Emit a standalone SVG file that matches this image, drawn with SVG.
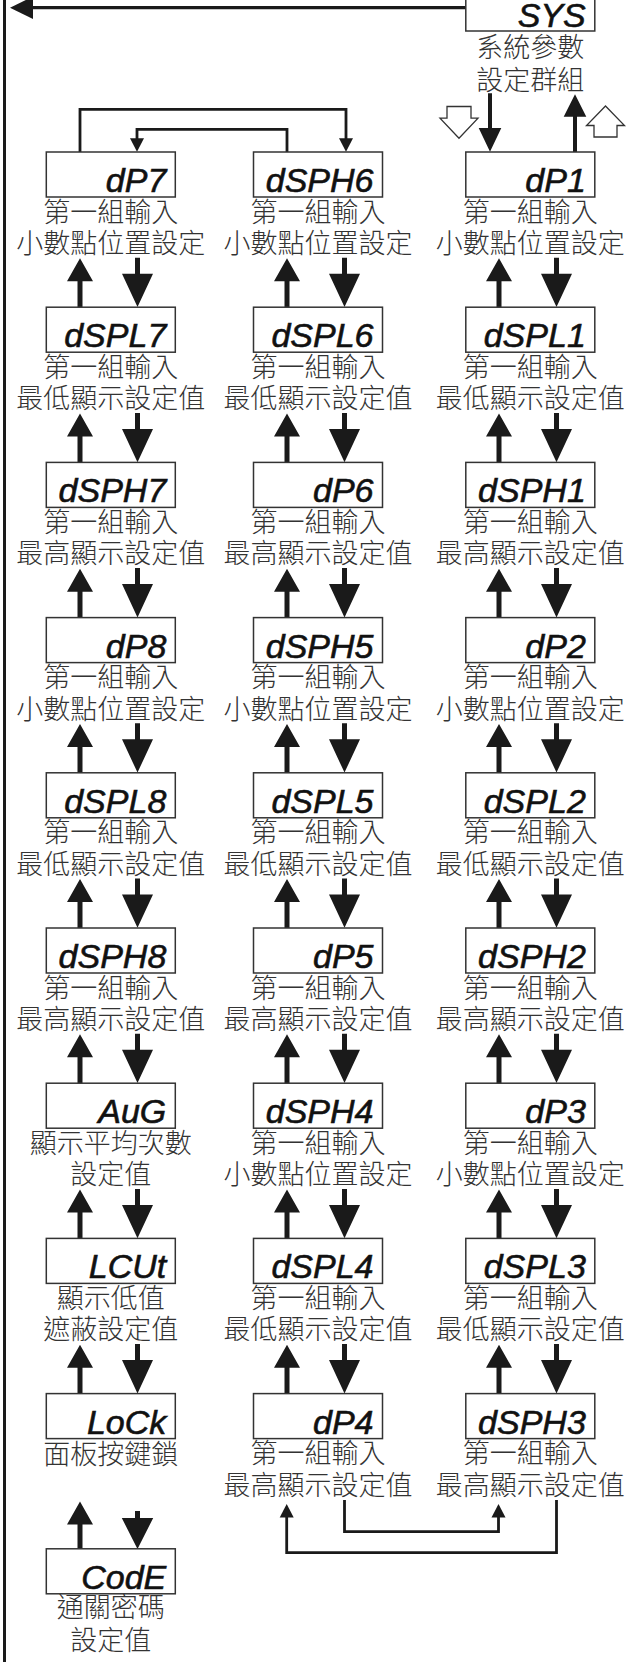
<svg xmlns="http://www.w3.org/2000/svg" xmlns:xlink="http://www.w3.org/1999/xlink" width="637" height="1662" viewBox="0 0 637 1662">
<style>
.box{fill:#fff;stroke:#333;stroke-width:1.5}
.seg{font-family:'Liberation Sans',Arial,sans-serif;font-style:italic;font-size:34px;fill:#111;stroke:#111;stroke-width:0.6;text-anchor:end}
.lbl{font-family:'Noto Sans CJK TC','Noto Sans CJK SC',sans-serif;font-size:27px;font-weight:300;fill:#333;text-anchor:middle}
.arr{fill:#1a1a1a}
.ln{fill:none;stroke:#1a1a1a;stroke-width:2.8}
.hol{fill:#fff;stroke:#333;stroke-width:1.3}
</style>
<defs>
<path id="up" d="M0,0 L13,23 H2.5 V50 H-2.5 V23 H-13 Z"/>
<path id="dn" d="M-2.5,0 H2.5 V16 H15.5 L0,49.3 L-15.5,16 H-2.5 Z"/>
<path id="sup" d="M0,0 L7,13.5 H-7 Z"/>
<path id="sdn" d="M0,0 L7,-13.5 H-7 Z"/>
</defs>

<g id="connectors">
<line x1="4.5" y1="0" x2="4.5" y2="1662" stroke="#1a1a1a" stroke-width="3"/>
<line x1="466" y1="7.7" x2="30" y2="7.7" stroke="#1a1a1a" stroke-width="3.3"/>
<path class="arr" d="M10,7.7 L33,-3.5 L33,19 Z"/>
<path class="arr" d="M488,93.3 H492 V128 H501.3 L490,151.7 L478.7,128 H488 Z"/>
<path class="arr" d="M575,94.3 L586.3,116.7 H577 V152 H573 V116.7 H563.7 Z"/>
<path class="hol" d="M447,106.5 H471 V118.2 H478 L459,138.3 L440,118.2 H447 Z"/>
<path class="hol" d="M605.5,106 L624.5,125.5 H617 V137 H594 V125.5 H586.5 Z"/>
<polyline class="ln" points="80,152 80,109.3 346,109.3 346,139"/>
<use href="#sdn" x="346" y="151.7" class="arr"/>
<polyline class="ln" points="287,152 287,129.3 137,129.3 137,139"/>
<use href="#sdn" x="137" y="151.7" class="arr"/>
<polyline class="ln" points="344.5,1500 344.5,1531.7 498.5,1531.7 498.5,1516"/>
<use href="#sup" x="498.5" y="1504" class="arr"/>
<polyline class="ln" points="556.5,1500 556.5,1552.7 286.7,1552.7 286.7,1516"/>
<use href="#sup" x="286.7" y="1504" class="arr"/>
<g class="arr">
<use href="#up" x="80" y="258.3"/><use href="#dn" x="137.5" y="257.7"/>
<use href="#up" x="287" y="258.3"/><use href="#dn" x="344.5" y="257.7"/>
<use href="#up" x="499" y="258.3"/><use href="#dn" x="556.5" y="257.7"/>
<use href="#up" x="80" y="413.5"/><use href="#dn" x="137.5" y="412.9"/>
<use href="#up" x="287" y="413.5"/><use href="#dn" x="344.5" y="412.9"/>
<use href="#up" x="499" y="413.5"/><use href="#dn" x="556.5" y="412.9"/>
<use href="#up" x="80" y="568.7"/><use href="#dn" x="137.5" y="568.1"/>
<use href="#up" x="287" y="568.7"/><use href="#dn" x="344.5" y="568.1"/>
<use href="#up" x="499" y="568.7"/><use href="#dn" x="556.5" y="568.1"/>
<use href="#up" x="80" y="723.9"/><use href="#dn" x="137.5" y="723.3"/>
<use href="#up" x="287" y="723.9"/><use href="#dn" x="344.5" y="723.3"/>
<use href="#up" x="499" y="723.9"/><use href="#dn" x="556.5" y="723.3"/>
<use href="#up" x="80" y="879.1"/><use href="#dn" x="137.5" y="878.5"/>
<use href="#up" x="287" y="879.1"/><use href="#dn" x="344.5" y="878.5"/>
<use href="#up" x="499" y="879.1"/><use href="#dn" x="556.5" y="878.5"/>
<use href="#up" x="80" y="1034.3"/><use href="#dn" x="137.5" y="1033.7"/>
<use href="#up" x="287" y="1034.3"/><use href="#dn" x="344.5" y="1033.7"/>
<use href="#up" x="499" y="1034.3"/><use href="#dn" x="556.5" y="1033.7"/>
<use href="#up" x="80" y="1189.5"/><use href="#dn" x="137.5" y="1188.9"/>
<use href="#up" x="287" y="1189.5"/><use href="#dn" x="344.5" y="1188.9"/>
<use href="#up" x="499" y="1189.5"/><use href="#dn" x="556.5" y="1188.9"/>
<use href="#up" x="80" y="1344.7"/><use href="#dn" x="137.5" y="1344.1"/>
<use href="#up" x="287" y="1344.7"/><use href="#dn" x="344.5" y="1344.1"/>
<use href="#up" x="499" y="1344.7"/><use href="#dn" x="556.5" y="1344.1"/>
<use href="#up" x="80" y="1501.6"/>
<path d="M135,1511 H140 V1518 H153.2 L137.5,1549 L121.8,1518 H135 Z"/>
</g>
</g>

<g id="n-SYS" transform="translate(465.8,-14)">
<rect class="box" width="129" height="45"/><text class="seg" x="120" y="40.5">SYS</text>
<text class="lbl" x="64.5" y="71">系統參數</text><text class="lbl" x="64.5" y="104">設定群組</text>
</g>

<g id="n-dP7" transform="translate(46.3,152)"><rect class="box" width="129" height="45"/><text class="seg" x="120" y="40">dP7</text><text class="lbl" x="64.5" y="69.5">第一組輸入</text><text class="lbl" x="64.5" y="101">小數點位置設定</text></g>
<g id="n-dSPL7" transform="translate(46.3,307.2)"><rect class="box" width="129" height="45"/><text class="seg" x="120" y="40">dSPL7</text><text class="lbl" x="64.5" y="69.5">第一組輸入</text><text class="lbl" x="64.5" y="101">最低顯示設定值</text></g>
<g id="n-dSPH7" transform="translate(46.3,462.4)"><rect class="box" width="129" height="45"/><text class="seg" x="120" y="40">dSPH7</text><text class="lbl" x="64.5" y="69.5">第一組輸入</text><text class="lbl" x="64.5" y="101">最高顯示設定值</text></g>
<g id="n-dP8" transform="translate(46.3,617.6)"><rect class="box" width="129" height="45"/><text class="seg" x="120" y="40">dP8</text><text class="lbl" x="64.5" y="69.5">第一組輸入</text><text class="lbl" x="64.5" y="101">小數點位置設定</text></g>
<g id="n-dSPL8" transform="translate(46.3,772.8)"><rect class="box" width="129" height="45"/><text class="seg" x="120" y="40">dSPL8</text><text class="lbl" x="64.5" y="69.5">第一組輸入</text><text class="lbl" x="64.5" y="101">最低顯示設定值</text></g>
<g id="n-dSPH8" transform="translate(46.3,928)"><rect class="box" width="129" height="45"/><text class="seg" x="120" y="40">dSPH8</text><text class="lbl" x="64.5" y="69.5">第一組輸入</text><text class="lbl" x="64.5" y="101">最高顯示設定值</text></g>
<g id="n-AuG" transform="translate(46.3,1083.2)"><rect class="box" width="129" height="45"/><text class="seg" x="120" y="40">AuG</text><text class="lbl" x="64.5" y="69.5">顯示平均次數</text><text class="lbl" x="64.5" y="101">設定值</text></g>
<g id="n-LCUt" transform="translate(46.3,1238.4)"><rect class="box" width="129" height="45"/><text class="seg" x="120" y="40">LCUt</text><text class="lbl" x="64.5" y="69.5">顯示低值</text><text class="lbl" x="64.5" y="101">遮蔽設定值</text></g>
<g id="n-LoCk" transform="translate(46.3,1393.6)"><rect class="box" width="129" height="45"/><text class="seg" x="120" y="40">LoCk</text><text class="lbl" x="64.5" y="70.5">面板按鍵鎖</text></g>
<g id="n-CodE" transform="translate(46.3,1548.8)"><rect class="box" width="129" height="45"/><text class="seg" x="120" y="40">CodE</text><text class="lbl" x="64.5" y="68.5">通關密碼</text><text class="lbl" x="64.5" y="101.5">設定值</text></g>

<g id="n-dSPH6" transform="translate(253.5,152)"><rect class="box" width="129" height="45"/><text class="seg" x="120" y="40">dSPH6</text><text class="lbl" x="64.5" y="69.5">第一組輸入</text><text class="lbl" x="64.5" y="101">小數點位置設定</text></g>
<g id="n-dSPL6" transform="translate(253.5,307.2)"><rect class="box" width="129" height="45"/><text class="seg" x="120" y="40">dSPL6</text><text class="lbl" x="64.5" y="69.5">第一組輸入</text><text class="lbl" x="64.5" y="101">最低顯示設定值</text></g>
<g id="n-dP6" transform="translate(253.5,462.4)"><rect class="box" width="129" height="45"/><text class="seg" x="120" y="40">dP6</text><text class="lbl" x="64.5" y="69.5">第一組輸入</text><text class="lbl" x="64.5" y="101">最高顯示設定值</text></g>
<g id="n-dSPH5" transform="translate(253.5,617.6)"><rect class="box" width="129" height="45"/><text class="seg" x="120" y="40">dSPH5</text><text class="lbl" x="64.5" y="69.5">第一組輸入</text><text class="lbl" x="64.5" y="101">小數點位置設定</text></g>
<g id="n-dSPL5" transform="translate(253.5,772.8)"><rect class="box" width="129" height="45"/><text class="seg" x="120" y="40">dSPL5</text><text class="lbl" x="64.5" y="69.5">第一組輸入</text><text class="lbl" x="64.5" y="101">最低顯示設定值</text></g>
<g id="n-dP5" transform="translate(253.5,928)"><rect class="box" width="129" height="45"/><text class="seg" x="120" y="40">dP5</text><text class="lbl" x="64.5" y="69.5">第一組輸入</text><text class="lbl" x="64.5" y="101">最高顯示設定值</text></g>
<g id="n-dSPH4" transform="translate(253.5,1083.2)"><rect class="box" width="129" height="45"/><text class="seg" x="120" y="40">dSPH4</text><text class="lbl" x="64.5" y="69.5">第一組輸入</text><text class="lbl" x="64.5" y="101">小數點位置設定</text></g>
<g id="n-dSPL4" transform="translate(253.5,1238.4)"><rect class="box" width="129" height="45"/><text class="seg" x="120" y="40">dSPL4</text><text class="lbl" x="64.5" y="69.5">第一組輸入</text><text class="lbl" x="64.5" y="101">最低顯示設定值</text></g>
<g id="n-dP4" transform="translate(253.5,1393.6)"><rect class="box" width="129" height="45"/><text class="seg" x="120" y="40">dP4</text><text class="lbl" x="64.5" y="69.5">第一組輸入</text><text class="lbl" x="64.5" y="101">最高顯示設定值</text></g>

<g id="n-dP1" transform="translate(465.8,152)"><rect class="box" width="129" height="45"/><text class="seg" x="120" y="40">dP1</text><text class="lbl" x="64.5" y="69.5">第一組輸入</text><text class="lbl" x="64.5" y="101">小數點位置設定</text></g>
<g id="n-dSPL1" transform="translate(465.8,307.2)"><rect class="box" width="129" height="45"/><text class="seg" x="120" y="40">dSPL1</text><text class="lbl" x="64.5" y="69.5">第一組輸入</text><text class="lbl" x="64.5" y="101">最低顯示設定值</text></g>
<g id="n-dSPH1" transform="translate(465.8,462.4)"><rect class="box" width="129" height="45"/><text class="seg" x="120" y="40">dSPH1</text><text class="lbl" x="64.5" y="69.5">第一組輸入</text><text class="lbl" x="64.5" y="101">最高顯示設定值</text></g>
<g id="n-dP2" transform="translate(465.8,617.6)"><rect class="box" width="129" height="45"/><text class="seg" x="120" y="40">dP2</text><text class="lbl" x="64.5" y="69.5">第一組輸入</text><text class="lbl" x="64.5" y="101">小數點位置設定</text></g>
<g id="n-dSPL2" transform="translate(465.8,772.8)"><rect class="box" width="129" height="45"/><text class="seg" x="120" y="40">dSPL2</text><text class="lbl" x="64.5" y="69.5">第一組輸入</text><text class="lbl" x="64.5" y="101">最低顯示設定值</text></g>
<g id="n-dSPH2" transform="translate(465.8,928)"><rect class="box" width="129" height="45"/><text class="seg" x="120" y="40">dSPH2</text><text class="lbl" x="64.5" y="69.5">第一組輸入</text><text class="lbl" x="64.5" y="101">最高顯示設定值</text></g>
<g id="n-dP3" transform="translate(465.8,1083.2)"><rect class="box" width="129" height="45"/><text class="seg" x="120" y="40">dP3</text><text class="lbl" x="64.5" y="69.5">第一組輸入</text><text class="lbl" x="64.5" y="101">小數點位置設定</text></g>
<g id="n-dSPL3" transform="translate(465.8,1238.4)"><rect class="box" width="129" height="45"/><text class="seg" x="120" y="40">dSPL3</text><text class="lbl" x="64.5" y="69.5">第一組輸入</text><text class="lbl" x="64.5" y="101">最低顯示設定值</text></g>
<g id="n-dSPH3" transform="translate(465.8,1393.6)"><rect class="box" width="129" height="45"/><text class="seg" x="120" y="40">dSPH3</text><text class="lbl" x="64.5" y="69.5">第一組輸入</text><text class="lbl" x="64.5" y="101">最高顯示設定值</text></g>
</svg>
